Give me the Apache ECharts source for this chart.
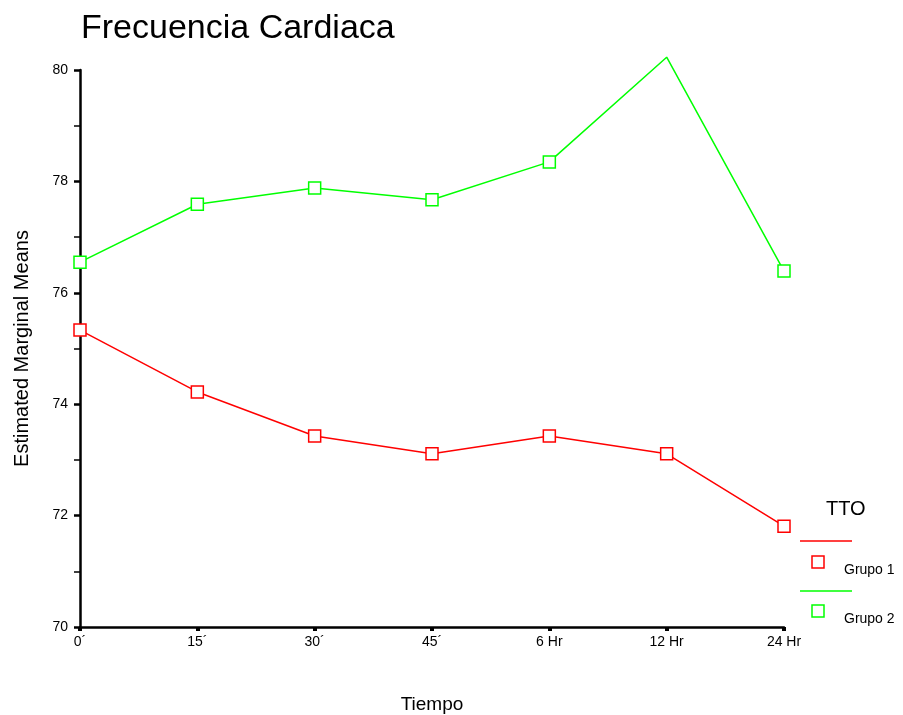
<!DOCTYPE html>
<html>
<head>
<meta charset="utf-8">
<script src="https://cdn.jsdelivr.net/npm/echarts@6/dist/echarts.min.js"></script>
<style>
  html, body { margin: 0; padding: 0; background: #fff; }
  #main { width: 903px; height: 715px; }
</style>
</head>
<body>
<div id="main"></div>
<script>
// categories and values
var tiempo = ['0´', '15´', '30´', '45´', '6 Hr', '12 Hr', '24 Hr'];
var grupo1 = [75.33, 74.22, 73.43, 73.11, 73.43, 73.11, 71.81];
var grupo2 = [76.55, 77.59, 77.88, 77.67, 78.35, 80.23, 76.39];
var yMin = 70, yMax = 80, yStep = 2;

var myChart = echarts.init(document.getElementById('main'));
var font = 'Liberation Sans, Arial, sans-serif';

// points above the axis max are not marked (as in the original)
function points(arr) {
  return arr.map(function (v) {
    return v > yMax ? { value: v, symbol: 'none' } : v;
  });
}

function lineSeries(name, data, color) {
  return {
    name: name,
    type: 'line',
    data: points(data),
    symbol: 'rect',
    symbolSize: 12,
    clip: false,
    lineStyle: { color: color, width: 1.5 },
    itemStyle: { color: '#fff', borderColor: color, borderWidth: 1.5 },
    emphasis: { disabled: true }
  };
}

var option = {
  animation: false,
  backgroundColor: '#fff',
  title: {
    text: 'Frecuencia Cardiaca',
    left: 76,
    top: 7,
    textStyle: { fontFamily: font, fontSize: 34, fontWeight: 'normal', color: '#000' }
  },
  grid: { left: 80, right: 119, top: 70, bottom: 88, outerBoundsMode: 'none' },
  xAxis: {
    type: 'category',
    data: tiempo,
    boundaryGap: false,
    name: 'Tiempo',
    nameLocation: 'middle',
    nameGap: 68,
    nameTextStyle: { fontFamily: font, fontSize: 19, color: '#000' },
    axisLine: { lineStyle: { color: '#000', width: 2.5 } },
    axisTick: { alignWithLabel: true, length: 4, lineStyle: { color: '#000', width: 4 } },
    axisLabel: { fontFamily: font, fontSize: 14, color: '#000', margin: 8 },
    splitLine: { show: false }
  },
  yAxis: {
    type: 'value',
    min: yMin,
    max: yMax,
    interval: yStep,
    name: 'Estimated Marginal Means',
    nameLocation: 'middle',
    nameGap: 48,
    nameTextStyle: { fontFamily: font, fontSize: 20, color: '#000' },
    axisLine: { show: true, lineStyle: { color: '#000', width: 2.5 } },
    axisTick: { show: true, length: 6, lineStyle: { color: '#000', width: 2.5 } },
    minorTick: { show: true, splitNumber: 2, length: 6, lineStyle: { color: '#000', width: 1.5 } },
    axisLabel: { fontFamily: font, fontSize: 14, color: '#000', margin: 12 },
    splitLine: { show: false }
  },
  series: [
    lineSeries('Grupo 1', grupo1, '#ff0000'),
    lineSeries('Grupo 2', grupo2, '#00ff00')
  ],
  graphic: [
    { type: 'text', left: 826, top: 499, style: { text: 'TTO', font: '20px ' + font, fill: '#000' } },
    { type: 'line', shape: { x1: 800, y1: 541, x2: 852, y2: 541 }, style: { stroke: '#ff0000', lineWidth: 1.5 } },
    { type: 'rect', shape: { x: 812, y: 556, width: 12, height: 12 }, style: { fill: '#fff', stroke: '#ff0000', lineWidth: 1.5 } },
    { type: 'text', left: 844, top: 563, style: { text: 'Grupo 1', font: '14px ' + font, fill: '#000' } },
    { type: 'line', shape: { x1: 800, y1: 591, x2: 852, y2: 591 }, style: { stroke: '#00ff00', lineWidth: 1.5 } },
    { type: 'rect', shape: { x: 812, y: 605, width: 12, height: 12 }, style: { fill: '#fff', stroke: '#00ff00', lineWidth: 1.5 } },
    { type: 'text', left: 844, top: 612, style: { text: 'Grupo 2', font: '14px ' + font, fill: '#000' } }
  ]
};
option && myChart.setOption(option);
</script>
</body>
</html>
